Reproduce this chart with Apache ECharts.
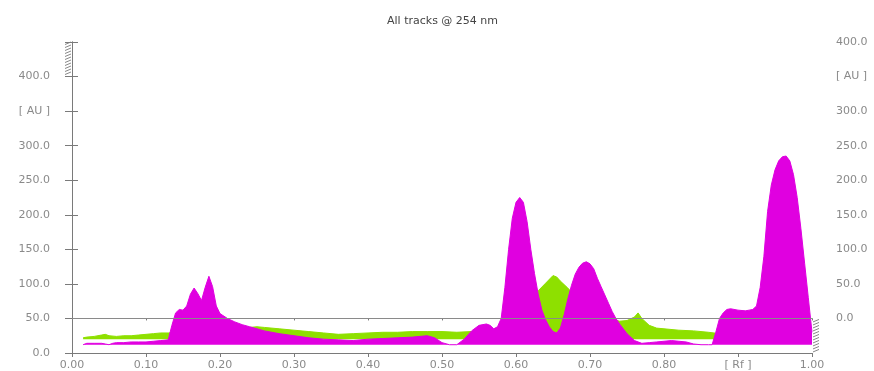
<!DOCTYPE html>
<html>
<head>
<meta charset="utf-8">
<script src="https://cdn.jsdelivr.net/npm/echarts@6/dist/echarts.min.js"></script>
<style>html,body{margin:0;padding:0;background:#fff}#c{width:874px;height:371px}</style>
</head>
<body>
<div id="c"></div>
<script>
// Track 1 (green)
const greenRf = [0.015,0.02,0.03,0.04,0.045,0.05,0.06,0.07,0.08,0.09,0.10,0.11,0.12,0.13,0.14,0.16,0.20,0.24,0.25,0.26,0.28,0.30,0.32,0.34,0.36,0.38,0.40,0.42,0.44,0.46,0.48,0.50,0.52,0.54,0.56,0.58,0.60,0.62,0.63,0.64,0.65,0.655,0.66,0.67,0.68,0.69,0.70,0.72,0.74,0.75,0.76,0.765,0.77,0.78,0.79,0.80,0.82,0.84,0.86,0.875];
const greenAU = [22,23,24,26,27,25,24,25,25,26,27,28,29,29,30,31,33,37,38,37,35,33,31,29,27,28,29,30,30,31,31,31,30,31,33,35,40,70,90,101,112,110,104,94,82,72,64,52,46,47,52,58,50,40,36,35,33,32,30,28];
// Track 2 (magenta)
const magentaRf = [0.015,0.02,0.03,0.04,0.045,0.05,0.055,0.06,0.07,0.08,0.09,0.10,0.11,0.12,0.13,0.135,0.14,0.145,0.15,0.155,0.16,0.165,0.17,0.175,0.18,0.185,0.19,0.195,0.20,0.21,0.22,0.23,0.24,0.25,0.26,0.28,0.30,0.32,0.34,0.36,0.38,0.40,0.42,0.44,0.46,0.48,0.49,0.50,0.51,0.52,0.53,0.54,0.55,0.56,0.565,0.57,0.575,0.58,0.585,0.59,0.595,0.60,0.605,0.61,0.615,0.62,0.625,0.63,0.635,0.64,0.645,0.65,0.655,0.66,0.665,0.67,0.675,0.68,0.685,0.69,0.695,0.70,0.705,0.71,0.715,0.72,0.725,0.73,0.735,0.74,0.75,0.76,0.77,0.78,0.79,0.80,0.81,0.82,0.83,0.84,0.85,0.86,0.865,0.87,0.875,0.88,0.885,0.89,0.90,0.91,0.915,0.92,0.925,0.93,0.935,0.94,0.945,0.95,0.955,0.96,0.965,0.97,0.975,0.98,0.985,0.99,0.995,1.00];
const magentaAU = [12,14,14,14,13,12,14,15,15,16,16,16,17,18,19,40,58,63,62,68,85,94,86,76,95,111,96,68,57,50,45,41,38,35,32,28,25,22,20,19,18,20,21,22,23,25,22,15,12,12,20,32,40,42,40,35,38,50,95,150,195,218,225,218,190,150,115,85,62,48,38,31,29,36,55,78,98,114,124,130,132,129,122,108,96,84,72,60,50,42,28,18,14,15,16,17,18,17,16,13,12,12,12,30,50,58,63,64,62,61,62,63,68,95,140,205,243,265,278,284,285,278,258,225,180,130,80,30];

const xUnitLabel = '[ Rf ]';
const yUnitLabel = '[ AU ]';
const title = 'All tracks @ 254 nm';

const greenData = greenRf.map((x,i)=>[x, greenAU[i]]);
const magentaData = magentaRf.map((x,i)=>[x, magentaAU[i]]);

const axisColor = '#7a7a7a';
const labelColor = '#8a8a8a';
const font = 'DejaVu Sans';

const chart = echarts.init(document.getElementById('c'), null, {renderer:'canvas'});
chart.setOption({
  animation:false,
  backgroundColor:'#fff',
  title:{text:title, left:382, top:11, textStyle:{fontSize:11, fontWeight:'normal', color:'#444', fontFamily:font}},
  grid:{left:72, right:62, top:42, bottom:17},
  xAxis:[{
    type:'value', min:0, max:1, interval:0.1, position:'bottom',
    axisLine:{show:true, lineStyle:{color:axisColor}},
    axisTick:{show:true, length:4, lineStyle:{color:axisColor}},
    splitLine:{show:false},
    axisLabel:{color:labelColor, fontSize:11, fontFamily:font, margin:7,
      formatter:v=>Math.abs(v-0.9)<1e-6 ? xUnitLabel : v.toFixed(2)}
  },{
    type:'value', min:0, max:1, interval:0.1, position:'top',
    axisLine:{show:true, lineStyle:{color:axisColor}},
    axisTick:{show:true, inside:true, length:2, lineStyle:{color:axisColor}},
    axisLabel:{show:false}, splitLine:{show:false}
  }],
  yAxis:[{
    type:'value', min:0, max:450, interval:50, position:'left',
    axisLine:{show:true, lineStyle:{color:axisColor}},
    axisTick:{show:true, length:7, lineStyle:{color:axisColor}},
    splitLine:{show:false},
    axisLabel:{color:labelColor, fontSize:11, fontFamily:font, margin:22,
      formatter:v=> v===450 ? '' : (v===350 ? yUnitLabel : v.toFixed(1))}
  },{
    type:'value', min:-50, max:400, interval:50, position:'right',
    axisLine:{show:true, lineStyle:{color:axisColor}},
    axisTick:{show:true, length:6, lineStyle:{color:axisColor}},
    splitLine:{show:false},
    axisLabel:{color:labelColor, fontSize:11, fontFamily:font, margin:24,
      formatter:v=> v===-50 ? '' : (v===350 ? yUnitLabel : v.toFixed(1))}
  }],
  series:[{
    name:'Track A', type:'line', data:greenData, showSymbol:false, symbol:'none',
    lineStyle:{color:'#8ee000', width:1}, itemStyle:{color:'#8ee000'},
    areaStyle:{color:'#8ee000', opacity:1, origin:20}, z:2
  },{
    name:'Track B', type:'line', data:magentaData, showSymbol:false, symbol:'none',
    lineStyle:{color:'#e000e0', width:1}, itemStyle:{color:'#e000e0'},
    areaStyle:{color:'#e000e0', opacity:1, origin:12}, z:3
  },{
    name:'zero', type:'line', yAxisIndex:1, data:[], silent:true,
    markLine:{silent:true, symbol:['none','none'], label:{show:false},
      lineStyle:{color:'#8a8a8a', type:'solid', width:1},
      data:[{yAxis:0}]}, z:4
  }]
});

function drawHatch(){
  const els = [];
  const lTop = chart.convertToPixel({xAxisIndex:0, yAxisIndex:0}, [0, 450]);
  const lBot = chart.convertToPixel({xAxisIndex:0, yAxisIndex:0}, [0, 402]);
  for (let y = lTop[1]+1; y <= lBot[1]; y += 3) {
    els.push({type:'line', shape:{x1:lTop[0]-7, y1:y+1.5, x2:lTop[0]-1, y2:y-1}, style:{stroke:'#888', lineWidth:1}, silent:true});
  }
  const rTop = chart.convertToPixel({xAxisIndex:0, yAxisIndex:1}, [1, 0]);
  const rBot = chart.convertToPixel({xAxisIndex:0, yAxisIndex:1}, [1, -50]);
  for (let y = rTop[1]+2; y <= rBot[1]; y += 3) {
    els.push({type:'line', shape:{x1:rTop[0]+1, y1:y+1.5, x2:rTop[0]+7, y2:y-1}, style:{stroke:'#888', lineWidth:1}, silent:true});
  }
  chart.setOption({graphic:els});
}
drawHatch();
</script>
</body>
</html>
